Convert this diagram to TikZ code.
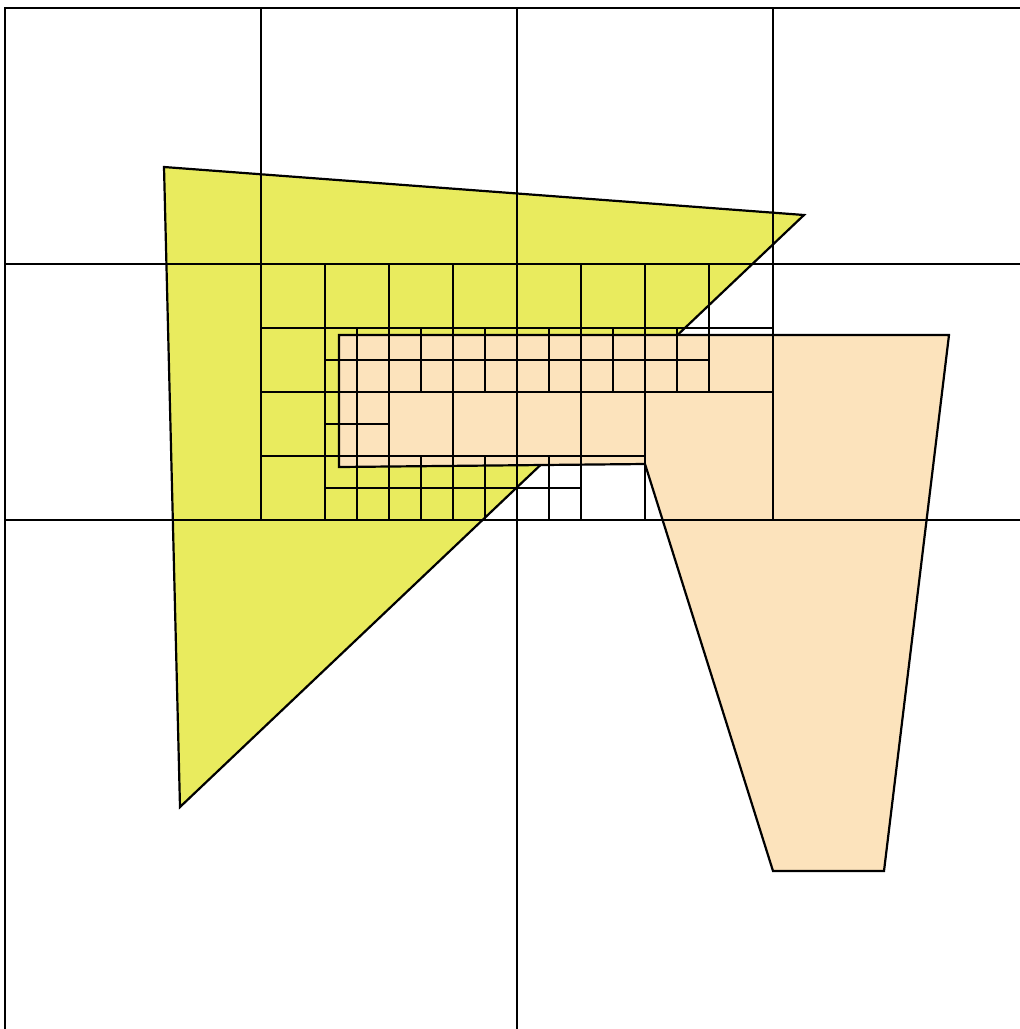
\documentclass[tikz,border=0pt]{standalone}
\usepackage{tikz}
\definecolor{triyellow}{RGB}{233,235,94}
\definecolor{polyorange}{RGB}{252,227,188}
\newcommand\qsplit[3]{%
  \draw[gridline] ({#1+#3/2},#2) -- ({#1+#3/2},{#2+#3});
  \draw[gridline] (#1,{#2+#3/2}) -- ({#1+#3},{#2+#3/2});
}
\begin{document}
\begin{tikzpicture}[x=1pt,y=-1pt,
  gridline/.style={black,line width=2.2pt},
  shapeline/.style={black,line width=2.2pt,line join=miter}]
\useasboundingbox (0,0) rectangle (1020,1029);
\clip (0,0) rectangle (1020,1029);
\fill[white] (0,0) rectangle (1020,1029);
% polygons
\filldraw[shapeline,fill=triyellow] (164,167) -- (804,215) -- (180,807) -- cycle;
\filldraw[shapeline,fill=polyorange] (339,335) -- (949,335) -- (884,871) -- (773,871) -- (645,464) -- (339,467) -- cycle;
% quadtree
\draw[gridline] (5,8) rectangle (1029,1032);
\draw[gridline] (517,8) -- (517,1032);
\draw[gridline] (5,520) -- (1029,520);
\qsplit{5}{8}{512}
\qsplit{517}{8}{512}
\qsplit{261}{264}{256}
\qsplit{261}{264}{128}
\qsplit{389}{264}{128}
\qsplit{261}{392}{128}
\qsplit{389}{392}{128}
\qsplit{325}{328}{64}
\qsplit{389}{328}{64}
\qsplit{453}{328}{64}
\qsplit{325}{392}{64}
\qsplit{325}{456}{64}
\qsplit{389}{456}{64}
\qsplit{453}{456}{64}
\qsplit{517}{264}{256}
\qsplit{517}{264}{128}
\qsplit{645}{264}{128}
\qsplit{517}{392}{128}
\qsplit{517}{328}{64}
\qsplit{581}{328}{64}
\qsplit{645}{328}{64}
\qsplit{517}{456}{64}
\end{tikzpicture}
\end{document}
